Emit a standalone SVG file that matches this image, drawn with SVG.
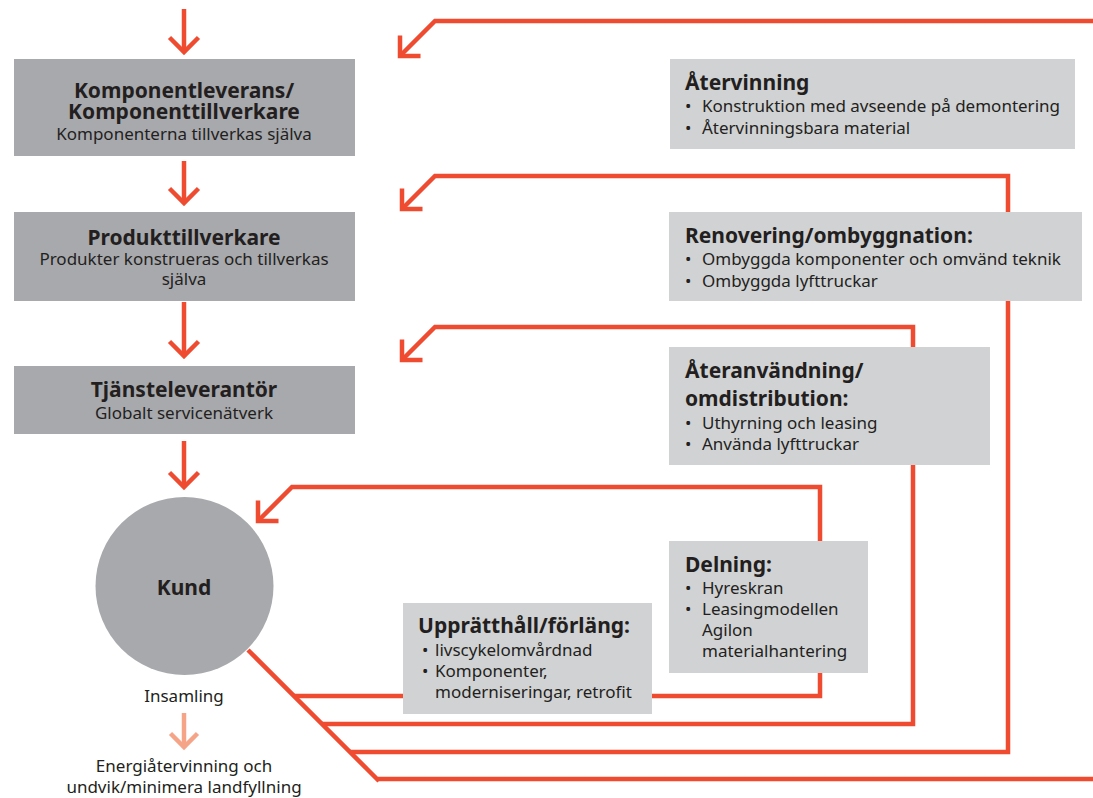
<svg xmlns="http://www.w3.org/2000/svg" width="1093" height="798" viewBox="0 0 1093 798">
<style>
.ln{fill:none;stroke:#ee4b30;stroke-width:4.5;stroke-linejoin:miter;stroke-linecap:butt}
.lt{fill:none;stroke:#f5a488;stroke-width:4.5}
.dk{fill:#a8a9ad}
.lg{fill:#d1d2d4}
text{font-family:"Noto Sans","Liberation Sans",sans-serif;fill:#231f20;font-size:17px}
.b{font-weight:bold;font-size:21px}
.c{text-anchor:middle}
</style>
<defs>
<marker id="ah" markerUnits="userSpaceOnUse" viewBox="-20 -20 30 40" markerWidth="30" markerHeight="40" refX="0" refY="0" orient="auto" overflow="visible">
<path d="M-14.5,-14.5 L0,0 L-14.5,14.5" fill="none" stroke="#ee4b30" stroke-width="4.5"/>
</marker>
<marker id="ahl" markerUnits="userSpaceOnUse" viewBox="-20 -20 30 40" markerWidth="30" markerHeight="40" refX="0" refY="0" orient="auto" overflow="visible">
<path d="M-13.5,-13.5 L0,0 L-13.5,13.5" fill="none" stroke="#f5a488" stroke-width="4.5"/>
</marker>
</defs>
<g id="connectors">
<path class="ln" d="M184,9 L184,52" marker-end="url(#ah)"/>
<path class="ln" d="M184,161 L184,203" marker-end="url(#ah)"/>
<path class="ln" d="M184,302 L184,356" marker-end="url(#ah)"/>
<path class="ln" d="M184,441 L184,487" marker-end="url(#ah)"/>
<path class="lt" d="M184,713 L184,747" marker-end="url(#ahl)"/>
<path class="ln" d="M248,650 L379,781"/>
<path class="ln" d="M294,696 L820,696 L820,487 L292,487 L258,521" marker-end="url(#ah)"/>
<path class="ln" d="M322,724 L913,724 L913,327 L435,327 L402,360" marker-end="url(#ah)"/>
<path class="ln" d="M350,752 L1008,752 L1008,176 L435,176 L402,209" marker-end="url(#ah)"/>
<path class="ln" d="M378,779 L1093,779"/>
<path class="ln" d="M1093,21 L435,21 L400,56" marker-end="url(#ah)"/>
</g>
<g id="komponentleverans">
<rect class="dk" x="14" y="59" width="341" height="97"/>
<text class="b c" x="184" y="98">Komponentleverans/</text>
<text class="b c" x="184" y="119">Komponenttillverkare</text>
<text class="c" x="184" y="140">Komponenterna tillverkas själva</text>
</g>
<g id="produkttillverkare">
<rect class="dk" x="14" y="212" width="341" height="89"/>
<text class="b c" x="184" y="245">Produkttillverkare</text>
<text class="c" x="184" y="265">Produkter konstrueras och tillverkas</text>
<text class="c" x="184" y="285">själva</text>
</g>
<g id="tjansteleverantor">
<rect class="dk" x="14" y="366" width="341" height="68"/>
<text class="b c" x="184" y="397">Tjänsteleverantör</text>
<text class="c" x="184" y="419">Globalt servicenätverk</text>
</g>
<g id="kund">
<circle class="dk" cx="184.5" cy="586" r="89"/>
<text class="b c" x="184" y="595">Kund</text>
</g>
<g id="insamling">
<text class="c" x="184" y="702">Insamling</text>
</g>
<g id="energiatervinning">
<text class="c" x="184" y="772">Energiåtervinning och</text>
<text class="c" x="184" y="793">undvik/minimera landfyllning</text>
</g>
<g id="atervinning">
<rect class="lg" x="670" y="59" width="405" height="90"/>
<text class="b" x="685" y="90">Återvinning</text>
<text x="685" y="112">•</text><text x="702" y="112">Konstruktion med avseende på demontering</text>
<text x="685" y="134">•</text><text x="702" y="134">Återvinningsbara material</text>
</g>
<g id="renovering">
<rect class="lg" x="669" y="212" width="413" height="89"/>
<text class="b" x="685" y="243">Renovering/ombyggnation:</text>
<text x="685" y="265">•</text><text x="702" y="265">Ombyggda komponenter och omvänd teknik</text>
<text x="685" y="287">•</text><text x="702" y="287">Ombyggda lyfttruckar</text>
</g>
<g id="ateranvandning">
<rect class="lg" x="669" y="347" width="321" height="118"/>
<text class="b" x="685" y="378">Återanvändning/</text>
<text class="b" x="685" y="406">omdistribution:</text>
<text x="685" y="429">•</text><text x="702" y="429">Uthyrning och leasing</text>
<text x="685" y="450">•</text><text x="702" y="450">Använda lyfttruckar</text>
</g>
<g id="delning">
<rect class="lg" x="669" y="541" width="199" height="132"/>
<text class="b" x="685" y="572">Delning:</text>
<text x="685" y="594">•</text><text x="702" y="594">Hyreskran</text>
<text x="685" y="615">•</text><text x="702" y="615">Leasingmodellen</text>
<text x="702" y="636">Agilon</text>
<text x="702" y="657">materialhantering</text>
</g>
<g id="uppratthall">
<rect class="lg" x="403" y="603" width="249" height="111"/>
<text class="b" x="418" y="633">Upprätthåll/förläng:</text>
<text x="422" y="656">•</text><text x="435" y="656">livscykelomvårdnad</text>
<text x="422" y="677">•</text><text x="435" y="677">Komponenter,</text>
<text x="435" y="698">moderniseringar, retrofit</text>
</g>
</svg>
